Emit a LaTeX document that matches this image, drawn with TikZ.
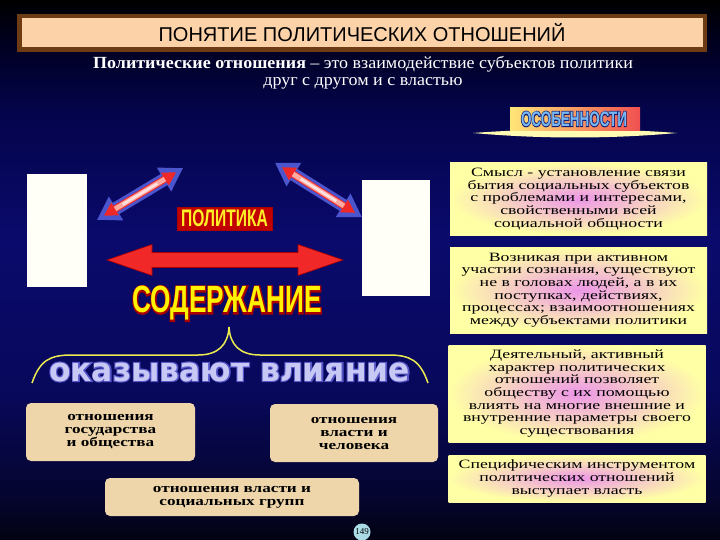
\documentclass[tikz,border=0pt]{standalone}
\usepackage{fontspec}
\usepackage{graphicx}
\setmainfont{Liberation Serif}
\newfontfamily\arialf{Liberation Sans}
\newfontfamily\dejavuf{DejaVu Sans}
\newfontfamily\wideserif[FakeStretch=1.40]{Liberation Serif}
\newfontfamily\tanserif[FakeStretch=1.32]{Liberation Serif Bold}
\newfontfamily\sodO[FakeBold=8]{Liberation Sans Bold}
\newfontfamily\osobOf[FakeBold=9]{Liberation Sans Bold}
\newfontfamily\okazOf[FakeBold=7]{DejaVu Sans Bold}
\definecolor{bgA}{RGB}{2,2,18}
\definecolor{bgB}{RGB}{5,5,45}
\definecolor{bgC}{RGB}{8,8,92}
\definecolor{bgD}{RGB}{10,10,108}
\definecolor{bgE}{RGB}{4,4,75}
\definecolor{bgF}{RGB}{0,0,30}
\definecolor{bgG}{RGB}{0,0,0}
\definecolor{brownc}{RGB}{110,60,20}
\definecolor{peachc}{RGB}{252,210,168}
\definecolor{pinkc}{RGB}{236,150,232}
\definecolor{yellc}{RGB}{255,255,165}
\definecolor{tanc}{RGB}{238,214,170}
\definecolor{ivoryc}{RGB}{255,255,248}
\definecolor{blueA}{RGB}{75,85,205}
\definecolor{redA}{RGB}{240,40,40}
\definecolor{redD}{RGB}{170,0,0}
\definecolor{paleR}{RGB}{255,225,225}
\definecolor{midR}{RGB}{255,170,160}
\definecolor{yelT}{RGB}{255,240,40}
\definecolor{braceC}{RGB}{235,235,80}
\definecolor{lavC}{RGB}{200,200,245}
\definecolor{lavO}{RGB}{85,85,200}
\definecolor{osobT}{RGB}{120,185,245}
\definecolor{osobO}{RGB}{20,30,110}
\definecolor{cyanc}{RGB}{170,220,230}
\pgfdeclareverticalshading{bgshade}{100bp}{color(0bp)=(bgA); color(25bp)=(bgA); color(28.7bp)=(bgB); color(38.9bp)=(bgC); color(52.8bp)=(bgD); color(64.8bp)=(bgE); color(71.3bp)=(bgF); color(75bp)=(bgG); color(100bp)=(bgG)}
\newcommand\rfont{\wideserif\fontsize{12.7}{12.7}\selectfont\lineskiplimit=-100pt\relax}
\newcommand\tfont{\tanserif\fontsize{13}{13}\selectfont\lineskiplimit=-100pt\relax}
% x, y, angle, half length, head length, shaft half width, head half width, style
\newcommand\dblarrow[8]{%
 \begin{scope}[shift={(#1,#2)}, rotate=#3]
 \path[#8] (-#4,0) -- ({-#4+#5},#7) -- ({-#4+#5},#6) -- ({#4-#5},#6) -- ({#4-#5},#7) -- (#4,0) -- ({#4-#5},-#7) -- ({#4-#5},-#6) -- ({-#4+#5},-#6) -- ({-#4+#5},-#7) -- cycle;
 \end{scope}}
% light shaft inside a small arrow: x, y, angle, half length, width
\newcommand\shaftglow[5]{%
 \begin{scope}[shift={(#1,#2)}, rotate=#3]
 \draw[midR, line width=#5pt] (-#4,0) -- (#4,0);
 \draw[paleR, line width={#5*0.5pt}] ({-#4*0.7},0) -- ({#4*0.7},0);
 \end{scope}}
% name, x, y, outline colour, fill colour, outline font, fill font, content
\newcommand\outlined[8]{%
 \node[text=#4, inner sep=0] at (#2,#3) {#6#8};
 \node[text=#5, inner sep=0] (#1) at (#2,#3) {#7#8};}
\tikzset{
 ybox/.style={shade, inner color=pinkc, outer color=yellc, align=center, font=\rfont, inner sep=0pt, minimum width=257pt},
 tbox/.style={fill=tanc, rounded corners=5pt, align=center, font=\tfont, inner sep=0pt},
 wbox/.style={fill=ivoryc, inner sep=0pt},
}
\begin{document}
\begin{tikzpicture}[x=1pt,y=-1pt]
\useasboundingbox (0,0) rectangle (720,540);
\shade[shading=bgshade] (0,0) rectangle (720,540);
% title
\node[fill=brownc, minimum width=690pt, minimum height=38pt, inner sep=0] (titlebar) at (362,33) {};
\node[fill=peachc, minimum width=681pt, minimum height=29pt, inner sep=0, font=\arialf\fontsize{20}{20}\selectfont] (title) at (362,33) {ПОНЯТИЕ ПОЛИТИЧЕСКИХ ОТНОШЕНИЙ};
% subtitle
\node[text=white, align=center, font=\fontsize{17}{17}\selectfont] (sub) at (363,73) {\textbf{\scalebox{1.06}[1]{Политические отношения}} \scalebox{1.06}[1]{– это взаимодействие субъектов политики}\\\scalebox{1.06}[1]{друг с другом и с властью}};
% osobennosti
\fill[yellow!30!white] (473,133) .. controls (540,128) and (610,128) .. (677,133) .. controls (610,139) and (540,139) .. (473,133);
\node[shade, left color={rgb,255:red,255;green,230;blue,120}, right color={rgb,255:red,240;green,80;blue,80}, minimum width=130pt, minimum height=23pt, inner sep=0] (osobbox) at (575,119) {};
\outlined{osob}{574}{119}{osobO}{osobT}{\osobOf}{\arialf\bfseries}{\fontsize{21}{21}\selectfont\scalebox{0.64}[1]{ОСОБЕННОСТИ}}
% white boxes
\node[wbox, minimum width=60pt, minimum height=113pt] (wl) at (57,230.5) {};
\node[wbox, minimum width=68pt, minimum height=116pt] (wr) at (396,238) {};
% diagonal arrows
\dblarrow{140}{194}{31}{50}{22}{6.5}{14}{fill=blueA}
\dblarrow{140}{194}{31}{42}{13}{3.6}{7.5}{fill=redA}
\shaftglow{140}{194}{31}{29}{5}
\dblarrow{318.5}{190}{-32}{51}{22}{6.5}{14}{fill=blueA}
\dblarrow{318.5}{190}{-32}{43}{13}{3.6}{7.5}{fill=redA}
\shaftglow{318.5}{190}{-32}{30}{5}
% politika
\node[fill={rgb,255:red,195;green,0;blue,0}, draw=redD, minimum width=95pt, minimum height=23pt, inner sep=0] (polbox) at (224.5,218.5) {};
\node[text=yelT, inner sep=0, font=\arialf\bfseries\fontsize{24}{24}\selectfont] (pol) at (224.5,218.5) {\scalebox{0.65}[1]{ПОЛИТИКА}};
% big red arrow
\dblarrow{225}{260}{0}{118}{45}{7.5}{15.5}{draw=redD, line width=0.6pt, left color=redA, middle color=paleR, right color=redA}
% soderzhanie
\outlined{soder}{227}{303.5}{redD}{yellow}{\sodO}{\arialf\bfseries}{\fontsize{38}{38}\selectfont\scalebox{0.69}[1]{СОДЕРЖАНИЕ}}
% brace
\coordinate (bl) at (32,383);
\coordinate (br) at (428,383);
\coordinate (bp) at (229,327);
\draw[braceC, line width=1.5pt] (bl) .. controls (40,360) and (50,355) .. (72,355) -- (198,355) .. controls (218,355) and (228,345) .. (bp) .. controls (230,345) and (240,355) .. (260,355) -- (388,355) .. controls (410,355) and (420,360) .. (br);
% okazyvayut vliyanie
\outlined{okaz}{229.5}{372}{lavO}{lavC}{\okazOf}{\dejavuf\bfseries}{\fontsize{33}{33}\selectfont\scalebox{0.95}[1]{оказывают влияние}}
% tan boxes
\node[tbox, minimum width=169pt, minimum height=58pt] (t1) at (110.5,432) {отношения\\государства\\и общества};
\node[tbox, minimum width=168pt, minimum height=58pt] (t2) at (354,433) {отношения\\власти и\\человека};
\node[tbox, minimum width=254pt, minimum height=38pt] (t3) at (232,497) {отношения власти и\\социальных групп};
% right boxes
\node[ybox, minimum height=72pt] (r1) at (578.5,199) {Смысл - установление связи\\бытия социальных субъектов\\с проблемами и интересами,\\свойственными всей\\социальной общности};
\node[ybox, minimum height=86pt] (r2) at (578.5,290) {Возникая при активном\\участии сознания, существуют\\не в головах людей, а в их\\поступках, действиях,\\процессах; взаимоотношениях\\между субъектами политики};
\node[ybox, minimum height=97pt] (r3) at (577,393.5) {Деятельный, активный\\характер политических\\отношений позволяет\\обществу с их помощью\\влиять на многие внешние и\\внутренние параметры своего\\существования};
\node[ybox, minimum height=47pt] (r4) at (577,478.5) {Специфическим инструментом\\политических отношений\\выступает власть};
% page number
\node[circle, fill=cyanc, inner sep=0, minimum size=17pt, font=\fontsize{9}{9}\selectfont] (pg) at (362,532) {149};
\end{tikzpicture}
\end{document}
